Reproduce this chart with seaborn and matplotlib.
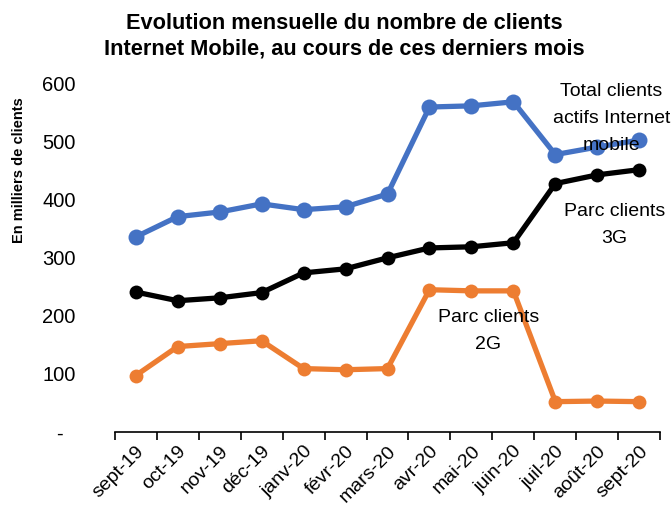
import matplotlib.pyplot as plt
import pandas as pd
import seaborn as sns

## Donnees ----

mois = ['sept-19', 'oct-19', 'nov-19', 'déc-19', 'janv-20', 'févr-20', 'mars-20',
        'avr-20', 'mai-20', 'juin-20', 'juil-20', 'août-20', 'sept-20']
total_clients = [336, 371, 379, 393, 383, 388, 410, 560, 562, 569, 478, 491, 503]
parc_3g = [241, 226, 231, 240, 274, 281, 300, 317, 319, 326, 428, 443, 452]
parc_2g = [97, 147, 152, 157, 109, 107, 109, 245, 243, 243, 52, 53, 52]

datos = pd.DataFrame({'pos': range(len(mois)), 'mois': mois,
                      'total': total_clients, '3G': parc_3g, '2G': parc_2g})

## Figura ----

sns.set_style('white')
plt.rcParams['font.family'] = ['Liberation Sans', 'DejaVu Sans']
plt.rcParams['text.color'] = 'black'
plt.rcParams['xtick.color'] = 'black'
plt.rcParams['ytick.color'] = 'black'
plt.rcParams['axes.labelcolor'] = 'black'

fig = plt.figure(figsize=(6.71, 5.08), dpi=100)
ax = fig.add_axes([0.171, 0.150, 0.813, 0.685])

series = [('total', '#4472C4', 11.5), ('3G', 'black', 10), ('2G', '#ED7D31', 10)]
for col, color, ms in series:
    sns.lineplot(data=datos, x='pos', y=col, color=color, linewidth=3.8,
                 marker='o', markersize=ms, markeredgewidth=0, ax=ax)

ax.set_xlim(-0.5, len(mois) - 0.5)
ax.set_ylim(0, 600)
ax.set_yticks([0, 100, 200, 300, 400, 500, 600])
ax.set_yticklabels(['-', '100', '200', '300', '400', '500', '600'], fontsize=14.5,
                   ha='center')

# ticks aux frontieres, etiquettes au centre
ax.set_xticks([i - 0.5 for i in range(len(mois) + 1)])
ax.set_xticklabels([])
ax.set_xticks(range(len(mois)), minor=True)
ax.set_xticklabels(mois, minor=True, rotation=45, ha='right', va='top',
                   rotation_mode='anchor', fontsize=14)
ax.tick_params(axis='x', which='major', direction='out', length=6, width=1.2,
               bottom=True, color='black')
ax.tick_params(axis='x', which='minor', length=0, pad=8)
ax.tick_params(axis='y', length=0, pad=40)

for s in ['top', 'right', 'left']:
    ax.spines[s].set_visible(False)
ax.spines['bottom'].set_color('black')
ax.spines['bottom'].set_linewidth(1.2)

ax.set_xlabel('')
ax.set_ylabel('En milliers de clients', weight='bold', fontsize=10.5)
ax.yaxis.set_label_coords(-0.163, 0.753)

ax.set_title('Evolution mensuelle du nombre de clients\nInternet Mobile, au cours de ces derniers mois',
             weight='bold', fontsize=15.7, x=0.42, y=1.06, linespacing=1.3)

ax.text(11.34, 540, 'Total clients\nactifs Internet\nmobile', ha='center', va='center',
        fontsize=14, linespacing=1.74)
ax.text(11.41, 357, 'Parc clients\n3G', ha='center', va='center', fontsize=14, linespacing=1.74)
ax.text(8.4, 174, 'Parc clients\n2G', ha='center', va='center', fontsize=14, linespacing=1.74)

fig.savefig('out.png', dpi=100)
